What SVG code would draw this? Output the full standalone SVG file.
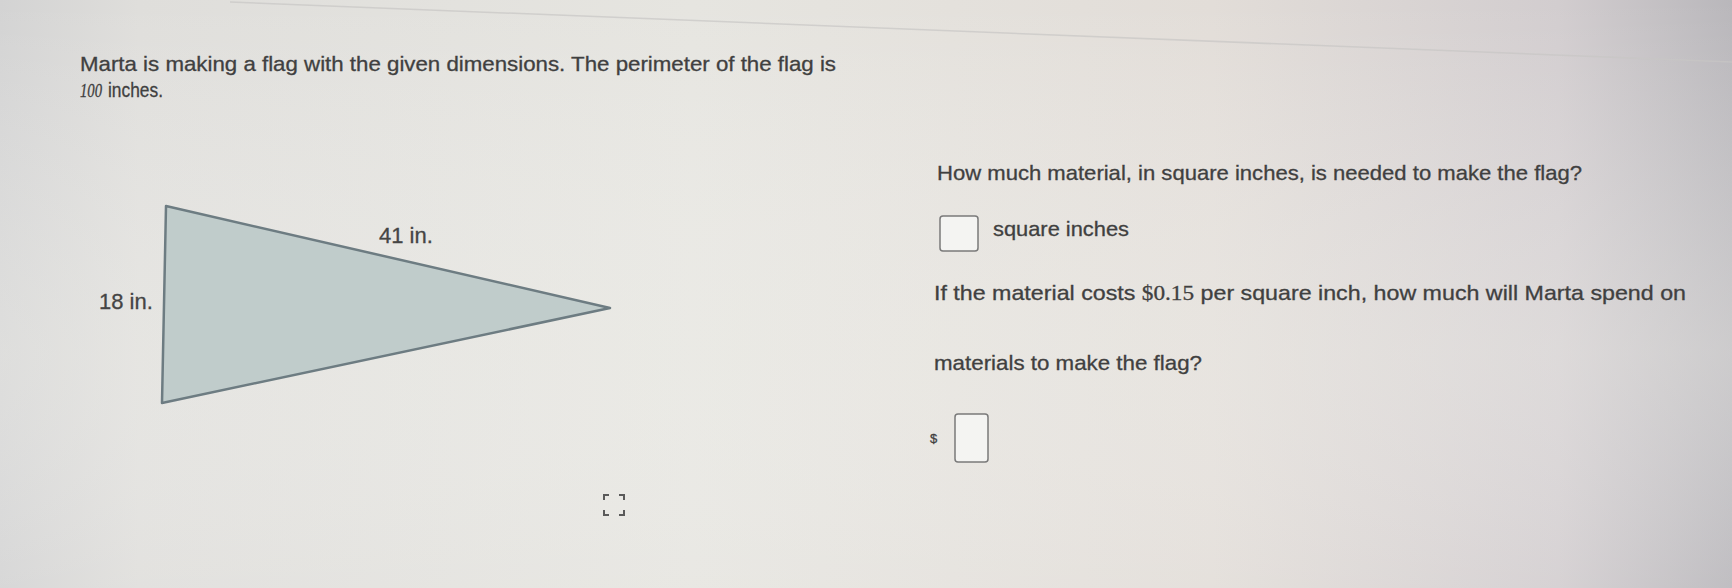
<svg xmlns="http://www.w3.org/2000/svg" width="1732" height="588" viewBox="0 0 1732 588">
<defs>
<linearGradient id="bg" x1="0" y1="0" x2="1" y2="0">
<stop offset="0" stop-color="#d3d3d3"/>
<stop offset="0.08" stop-color="#dfdedb"/>
<stop offset="0.4" stop-color="#e6e5e0"/>
<stop offset="0.7" stop-color="#e2ddd8"/>
<stop offset="0.9" stop-color="#d2cdcf"/>
<stop offset="1" stop-color="#b9b7bb"/>
</linearGradient>
<linearGradient id="vs" x1="0" y1="0" x2="0" y2="1">
<stop offset="0" stop-color="#ffffff" stop-opacity="0"/>
<stop offset="0.6" stop-color="#f2f2ee" stop-opacity="0.35"/>
<stop offset="1" stop-color="#ffffff" stop-opacity="0.1"/>
</linearGradient>
<style>
.t{font-family:"Liberation Sans",Arial,sans-serif;fill:#404040;stroke:#404040;stroke-width:0.3;font-size:21px}
.n{font-family:"Liberation Serif","Times New Roman",serif}
.lbl{font-family:"Liberation Sans",Arial,sans-serif;fill:#454545;stroke:#454545;stroke-width:0.3;font-size:22px}
.box{fill:#f4f4f2;stroke:#7a7a7a;stroke-width:1.5}
</style>
</defs>
<rect width="1732" height="588" fill="url(#bg)"/>
<rect width="1732" height="588" fill="url(#vs)"/>
<path d="M230 2 L1732 62" stroke="#c8c6c4" stroke-width="1.5" fill="none" opacity="0.7"/>

<g id="intro">
<text class="t" x="80" y="71" textLength="756" lengthAdjust="spacingAndGlyphs">Marta is making a flag with the given dimensions. The perimeter of the flag is</text>
<text class="t n" x="80" y="97" font-style="italic" style="font-size:19px" textLength="22" lengthAdjust="spacingAndGlyphs">100</text>
<text class="t" x="108" y="97" textLength="55" lengthAdjust="spacingAndGlyphs">inches.</text>
</g>

<g id="flag">
<polygon points="166,206 610,308 162,403" fill="#c0cccb" stroke="#6d7c82" stroke-width="2.5" stroke-linejoin="round"/>
<text class="lbl" x="379" y="243">41 in.</text>
<text class="lbl" x="99" y="309">18 in.</text>
</g>

<g id="q1">
<text class="t" x="937" y="180" textLength="645" lengthAdjust="spacingAndGlyphs">How much material, in square inches, is needed to make the flag?</text>
<rect class="box" x="940" y="216" width="38" height="35" rx="3"/>
<text class="t" x="993" y="236" textLength="136" lengthAdjust="spacingAndGlyphs">square inches</text>
</g>

<g id="q2">
<text class="t" x="934" y="300" textLength="752" lengthAdjust="spacingAndGlyphs">If the material costs <tspan class="n">$0.15</tspan> per square inch, how much will Marta spend on</text>
<text class="t" x="934" y="370" textLength="268" lengthAdjust="spacingAndGlyphs">materials to make the flag?</text>
<text class="t" x="930" y="443" style="font-size:13px">$</text>
<rect class="box" x="955" y="414" width="33" height="48" rx="3"/>
</g>

<g id="expand" fill="none" stroke="#5a5a5a" stroke-width="2">
<path d="M604 500 V495 H609"/>
<path d="M619 495 H624 V500"/>
<path d="M604 510 V515 H609"/>
<path d="M619 515 H624 V510"/>
</g>
</svg>
